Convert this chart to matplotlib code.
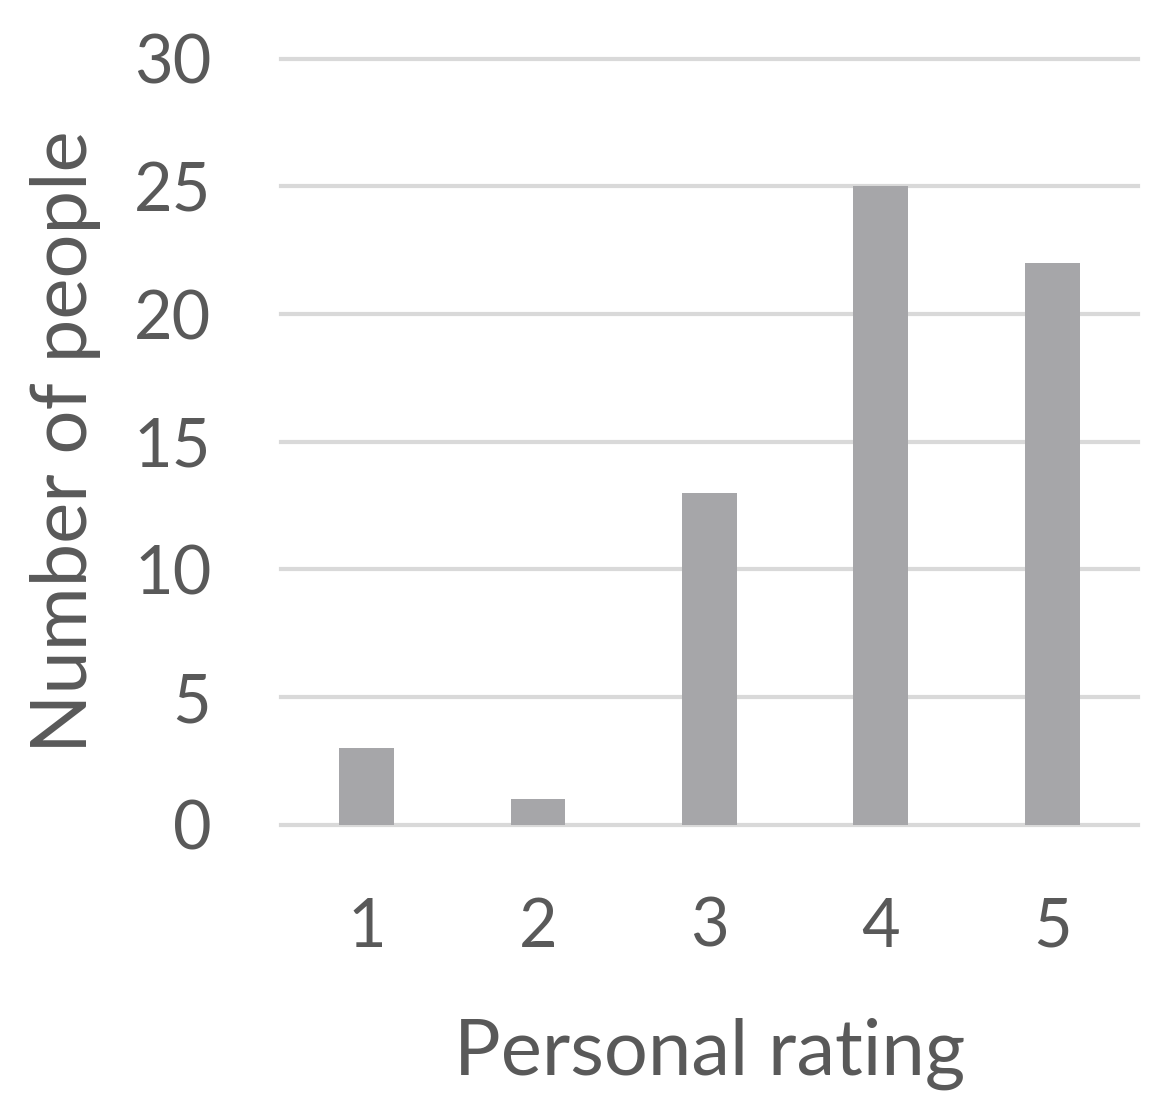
import matplotlib.pyplot as plt
import numpy as np

plt.rcParams['font.family'] = ['Lato', 'DejaVu Sans']

ratings = ['1', '2', '3', '4', '5']
people = [3, 1, 13, 25, 22]
y_ticks = [0, 5, 10, 15, 20, 25, 30]

text_color = '#595959'
bar_color = '#A6A6A9'
grid_color = '#D9D9D9'

fig = plt.figure(figsize=(11.75, 11.1), dpi=100)
ax = fig.add_axes([0.239, 0.257, 0.7295, 0.69])

x = np.arange(len(ratings))
ax.bar(x, people, width=0.32, color=bar_color, zorder=3)

ax.set_xlim(-0.5, len(ratings) - 0.5)
ax.set_ylim(0, 30)
ax.set_yticks(y_ticks)
ax.set_xticks(x)
ax.set_xticklabels(ratings)

for y in y_ticks:
    ax.axhline(y, color=grid_color, lw=3, zorder=1, clip_on=False)

for s in ax.spines.values():
    s.set_visible(False)
ax.tick_params(axis='both', length=0, labelsize=48, labelcolor=text_color)
ax.tick_params(axis='x', pad=52)
ax.tick_params(axis='y', pad=50)

ax.set_xlabel('Personal rating', fontsize=56, color=text_color, labelpad=42)
ax.set_ylabel('Number of people', fontsize=56, color=text_color, labelpad=24)

fig.savefig('out.png', dpi=100)
